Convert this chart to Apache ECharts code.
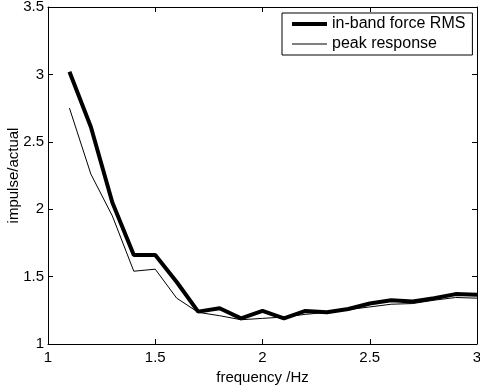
<!DOCTYPE html>
<html>
<head>
<meta charset="utf-8">
<script src="https://cdn.jsdelivr.net/npm/echarts@6/dist/echarts.min.js"></script>
<style>
  html, body { margin: 0; padding: 0; background: #fff; }
  #chart { width: 480px; height: 390px; }
</style>
</head>
<body>
<div id="chart"></div>
<script>
// frequency steps (Hz)
var freq = [1.1, 1.2, 1.3, 1.4, 1.5, 1.6, 1.7, 1.8, 1.9, 2.0, 2.1, 2.2, 2.3, 2.4, 2.5, 2.6, 2.7, 2.8, 2.9, 3.0];
var inbandRms = [3.02, 2.61, 2.05, 1.66, 1.66, 1.46, 1.24, 1.265, 1.19, 1.245, 1.19, 1.245, 1.235, 1.26, 1.30, 1.325, 1.315, 1.34, 1.37, 1.365];
var peakResp = [2.75, 2.26, 1.95, 1.54, 1.555, 1.34, 1.235, 1.21, 1.18, 1.19, 1.20, 1.22, 1.235, 1.255, 1.275, 1.295, 1.30, 1.325, 1.345, 1.34];
var seriesNames = ['in-band force RMS', 'peak response'];

var font = 'Liberation Sans, Arial, sans-serif';
var chart = echarts.init(document.getElementById('chart'));

function pairs(ys) {
  return freq.map(function (f, i) { return [f, ys[i]]; });
}

var frameAxis = {
  axisLine: { show: true, lineStyle: { color: '#000', width: 1 } },
  axisTick: { show: true, inside: true, length: 5, lineStyle: { color: '#000' } },
  splitLine: { show: false }
};

chart.setOption({
  animation: false,
  backgroundColor: '#fff',
  textStyle: { fontFamily: font },
  grid: { left: 48, right: 3, top: 7, bottom: 46, containLabel: false, outerBoundsMode: 'none' },
  legend: {
    orient: 'vertical',
    left: 282,
    top: 13,
    padding: [3, 7, 3, 8],
    itemGap: 4,
    itemWidth: 35,
    itemHeight: 14,
    borderColor: '#000',
    borderWidth: 1,
    borderRadius: 0,
    backgroundColor: '#fff',
    itemStyle: { opacity: 0 },
    lineStyle: { width: 'inherit' },
    textStyle: { color: '#000', fontSize: 16, fontFamily: font },
    data: seriesNames
  },
  xAxis: [
    Object.assign({
      type: 'value', min: 1, max: 3, interval: 0.5, position: 'bottom',
      name: 'frequency /Hz', nameLocation: 'middle', nameGap: 26,
      nameTextStyle: { color: '#000', fontSize: 15, fontFamily: font },
      axisLabel: { color: '#000', fontSize: 15, fontFamily: font, margin: 6 }
    }, frameAxis),
    Object.assign({
      type: 'value', min: 1, max: 3, interval: 0.5, position: 'top',
      axisLabel: { show: false }
    }, frameAxis)
  ],
  yAxis: [
    Object.assign({
      type: 'value', min: 1, max: 3.5, interval: 0.5, position: 'left',
      name: 'impulse/actual', nameLocation: 'middle', nameGap: 27, nameRotate: 90,
      nameMoveOverlap: false,
      nameTextStyle: { color: '#000', fontSize: 15, fontFamily: font },
      axisLabel: { color: '#000', fontSize: 15, fontFamily: font, margin: 4 }
    }, frameAxis),
    Object.assign({
      type: 'value', min: 1, max: 3.5, interval: 0.5, position: 'right',
      axisLabel: { show: false }
    }, frameAxis)
  ],
  series: [
    {
      name: seriesNames[0],
      type: 'line',
      symbol: 'none',
      color: '#000',
      lineStyle: { color: '#000', width: 4 },
      data: pairs(inbandRms)
    },
    {
      name: seriesNames[1],
      type: 'line',
      symbol: 'none',
      color: '#000',
      lineStyle: { color: '#000', width: 1 },
      data: pairs(peakResp)
    }
  ]
});
</script>
</body>
</html>
